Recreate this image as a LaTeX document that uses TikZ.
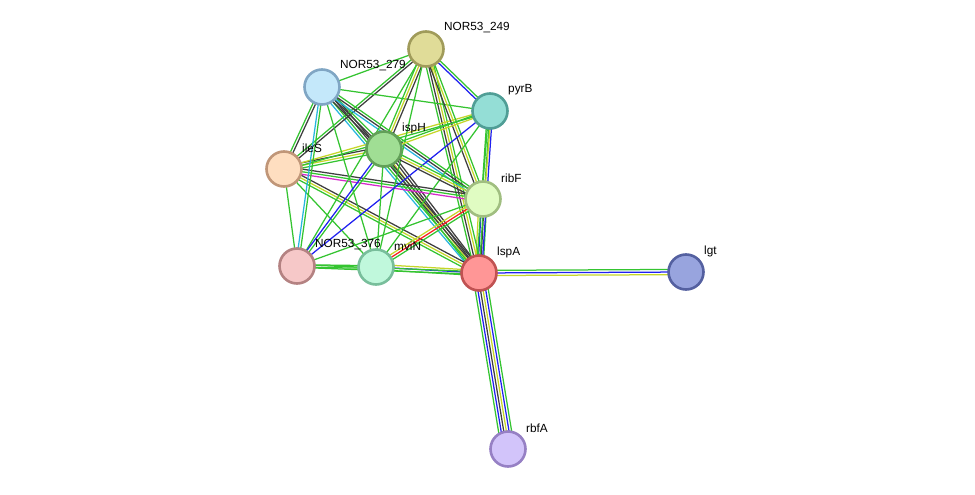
\documentclass[tikz,border=0pt]{standalone}
\usepackage{fontspec}
\setmainfont{Liberation Sans}
\usetikzlibrary{calc,backgrounds}

% evidence colours
\definecolor{cNbh}{RGB}{52,196,48}
\definecolor{cTxt}{RGB}{198,214,40}
\definecolor{cCoex}{RGB}{62,62,62}
\definecolor{cCooc}{RGB}{32,32,240}
\definecolor{cDb}{RGB}{40,182,222}
\definecolor{cExpt}{RGB}{214,40,204}
\definecolor{cFus}{RGB}{250,32,32}
% protein colours (fill / rim)
\definecolor{pA}{RGB}{224,220,152} \definecolor{bA}{RGB}{160,155,90}
\definecolor{pB}{RGB}{196,232,250} \definecolor{bB}{RGB}{128,166,196}
\definecolor{pC}{RGB}{148,222,214} \definecolor{bC}{RGB}{80,158,150}
\definecolor{pD}{RGB}{160,222,148} \definecolor{bD}{RGB}{98,160,88}
\definecolor{pE}{RGB}{254,222,192} \definecolor{bE}{RGB}{192,150,120}
\definecolor{pF}{RGB}{224,252,194} \definecolor{bF}{RGB}{160,190,128}
\definecolor{pG}{RGB}{246,200,200} \definecolor{bG}{RGB}{180,130,130}
\definecolor{pH}{RGB}{192,248,220} \definecolor{bH}{RGB}{120,190,155}
\definecolor{pI}{RGB}{255,150,150} \definecolor{bI}{RGB}{192,82,82}
\definecolor{pJ}{RGB}{152,164,222} \definecolor{bJ}{RGB}{84,96,160}
\definecolor{pK}{RGB}{210,196,250} \definecolor{bK}{RGB}{150,128,196}

% one interaction = a bundle of parallel evidence lines
\newcommand{\interaction}[3]{%
  \foreach \ev [count=\i] in {#3} {\xdef\nlines{\i}}%
  \foreach \ev [count=\i] in {#3} {%
    \pgfmathsetmacro\off{(\i-(\nlines+1)/2)*2.6}%
    \draw[\ev] ($(#1)!\off pt!90:(#2)$) -- ($(#2)!\off pt!-90:(#1)$);
  }%
}

\begin{document}
\begin{tikzpicture}[x=1pt, y=-1pt,
    prot/.style 2 args={circle, minimum size=35pt, inner sep=0pt, line width=2.6pt, fill=#1, draw=#2},
    lbl/.style={anchor=west, inner sep=0pt, font=\fontsize{11.8}{13}\selectfont},
    nbh/.style={line width=1.25pt, cNbh},
    txt/.style={line width=1.25pt, cTxt},
    coex/.style={line width=1.25pt, cCoex},
    cooc/.style={line width=1.25pt, cCooc},
    dbase/.style={line width=1.25pt, cDb},
    expt/.style={line width=1.25pt, cExpt},
    fusion/.style={line width=1.25pt, cFus}
]
\useasboundingbox (0,0) rectangle (975,495);

% proteins
\node[prot={pA}{bA}] (n249) at (426,49) {};
\node[prot={pB}{bB}] (n279) at (322,87) {};
\node[prot={pC}{bC}] (pyrB) at (490,111) {};
\node[prot={pD}{bD}] (ispH) at (384,149) {};
\node[prot={pE}{bE}] (ileS) at (284,169) {};
\node[prot={pF}{bF}] (ribF) at (483,199) {};
\node[prot={pG}{bG}] (n376) at (297,266) {};
\node[prot={pH}{bH}] (mviN) at (376,267) {};
\node[prot={pI}{bI}] (lspA) at (479,273) {};
\node[prot={pJ}{bJ}] (lgt) at (686,272) {};
\node[prot={pK}{bK}] (rbfA) at (508,449) {};

% labels
\node[lbl] (n249-l) at ($(n249)+(18,-21)$) {NOR53\_249};
\node[lbl] (n279-l) at ($(n279)+(18,-21)$) {NOR53\_279};
\node[lbl] (pyrB-l) at ($(pyrB)+(18,-21)$) {pyrB};
\node[lbl] (ispH-l) at ($(ispH)+(18,-21)$) {ispH};
\node[lbl] (ileS-l) at ($(ileS)+(18,-21)$) {ileS};
\node[lbl] (ribF-l) at ($(ribF)+(18,-21)$) {ribF};
\node[lbl] (n376-l) at ($(n376)+(18,-21)$) {NOR53\_376};
\node[lbl] (mviN-l) at ($(mviN)+(18,-21)$) {mviN};
\node[lbl] (lspA-l) at ($(lspA)+(18,-21)$) {lspA};
\node[lbl] (lgt-l) at ($(lgt)+(18,-21)$) {lgt};
\node[lbl] (rbfA-l) at ($(rbfA)+(18,-21)$) {rbfA};

% interactions
\begin{scope}[on background layer]
\fill[white] (0,0) rectangle (975,495);
\interaction{lspA}{lgt}{txt,cooc,nbh}
\interaction{lspA}{rbfA}{nbh,cooc,coex,txt,cooc,nbh}
\interaction{lspA}{ribF}{nbh,coex,cooc,txt}
\interaction{lspA}{mviN}{txt,cooc,nbh}
\interaction{lspA}{n376}{nbh,nbh}
\interaction{lspA}{ispH}{coex,coex,txt,nbh}
\interaction{lspA}{n249}{nbh,txt,coex,nbh}
\interaction{lspA}{n279}{coex,coex,nbh,dbase}
\interaction{lspA}{ileS}{coex,txt,nbh}
\interaction{lspA}{pyrB}{cooc,nbh,nbh}
\interaction{mviN}{ribF}{nbh,fusion,txt}
\interaction{ileS}{ribF}{expt,nbh,coex}
\interaction{ileS}{ispH}{nbh,txt,coex}
\interaction{ileS}{n279}{coex,nbh}
\interaction{ileS}{n249}{coex,nbh}
\interaction{ileS}{n376}{nbh}
\interaction{ileS}{mviN}{nbh}
\interaction{ileS}{pyrB}{nbh,txt}
\interaction{n279}{n376}{dbase,nbh}
\interaction{n279}{ispH}{coex,coex,nbh}
\interaction{n279}{n249}{nbh}
\interaction{n279}{pyrB}{nbh}
\interaction{n279}{ribF}{dbase,coex,nbh}
\interaction{n279}{mviN}{nbh}
\interaction{n249}{pyrB}{cooc,nbh}
\interaction{n249}{ispH}{nbh,txt,coex}
\interaction{n249}{ribF}{coex,txt,nbh}
\interaction{n249}{n376}{nbh}
\interaction{n249}{mviN}{nbh}
\interaction{pyrB}{ribF}{nbh,txt}
\interaction{pyrB}{ispH}{nbh,txt}
\interaction{pyrB}{n376}{cooc}
\interaction{pyrB}{mviN}{nbh}
\interaction{ispH}{ribF}{coex,txt,nbh}
\interaction{ispH}{n376}{cooc,nbh}
\interaction{ispH}{mviN}{nbh}
\interaction{ribF}{n376}{nbh}
\interaction{n376}{mviN}{nbh,nbh}
\end{scope}
\end{tikzpicture}
\end{document}
